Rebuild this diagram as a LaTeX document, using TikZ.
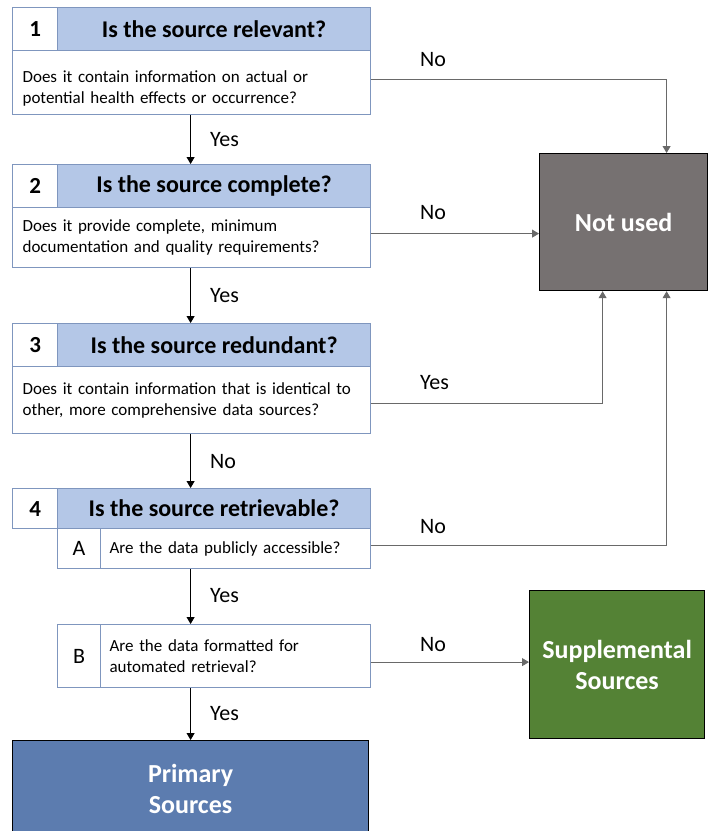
\documentclass[tikz,border=0pt]{standalone}
\usepackage{fontspec}
\setmainfont{Carlito}
\usetikzlibrary{arrows.meta}

\definecolor{boxline}{RGB}{127,150,190}
\definecolor{headblue}{RGB}{180,199,231}
\definecolor{notgray}{RGB}{118,113,113}
\definecolor{suppgreen}{RGB}{84,130,53}
\definecolor{primblue}{RGB}{92,124,175}
\definecolor{linegray}{RGB}{105,105,105}

\tikzset{
	cell/.style={draw=boxline, line width=1.2pt, anchor=north west, inner sep=0pt},
	numcell/.style={cell, fill=white, minimum width=45pt, font=\fontsize{23}{26}\selectfont\bfseries},
	headcell/.style={cell, fill=headblue, minimum width=313pt, font=\fontsize{24}{28}\selectfont\bfseries},
	bodycell/.style={cell, fill=white, inner xsep=10pt, text width=338pt, align=left, font=\fontsize{17}{21}\selectfont},
	letcell/.style={cell, fill=white, minimum width=43pt, font=\fontsize{22}{26}\selectfont},
	subcell/.style={cell, fill=white, inner xsep=9pt, text width=252pt, align=left, font=\fontsize{17}{21}\selectfont},
	endbox/.style={draw=black, line width=1.2pt, anchor=north west, text=white, align=center, font=\fontsize{26}{31}\selectfont\bfseries},
	lbl/.style={anchor=west, inner sep=0pt, font=\fontsize{22}{26}\selectfont},
	arr/.style={line width=0.9pt, -{Triangle[length=7pt,width=8pt]}},
	side/.style={arr, draw=linegray}
}

\begin{document}
\begin{tikzpicture}[x=1pt,y=-1pt]
	\useasboundingbox (0,0) rectangle (708,831);

	% question 1
	\node[numcell, minimum height=43pt] (n1) at (12,7) {1};
	\node[headcell, minimum height=43pt] (h1) at (57,7) {Is the source relevant?};
	\node[bodycell, minimum height=64pt] (b1) at (12,50) {\rule{0pt}{24pt}Does it contain information on actual or\\potential health effects or occurrence?};

	% question 2
	\node[numcell, minimum height=43pt] (n2) at (12,164) {2};
	\node[headcell, minimum height=43pt] (h2) at (57,164) {Is the source complete?};
	\node[bodycell, minimum height=60pt] (b2) at (12,207) {Does it provide complete, minimum\\documentation and quality requirements?};

	% question 3
	\node[numcell, minimum height=43pt] (n3) at (12,323) {3};
	\node[headcell, minimum height=43pt] (h3) at (57,323) {Is the source redundant?};
	\node[bodycell, minimum height=67pt] (b3) at (12,366) {Does it contain information that is identical to\\other, more comprehensive data sources?};

	% question 4
	\node[numcell, minimum height=40pt] (n4) at (12,488) {4};
	\node[headcell, minimum height=40pt] (h4) at (57,488) {Is the source retrievable?};
	\node[letcell, minimum height=40pt] (la) at (57,528) {A};
	\node[subcell, minimum height=40pt] (ra) at (100,528) {Are the data publicly accessible?};
	\node[letcell, minimum height=63pt] (lb) at (57,624) {B};
	\node[subcell, minimum height=63pt] (rb) at (100,624) {Are the data formatted for\\automated retrieval?};

	% outcomes
	\node[endbox, fill=notgray, minimum width=168pt, minimum height=137pt] (nu) at (539,153) {Not used};
	\node[endbox, fill=suppgreen, minimum width=175pt, minimum height=148pt] (supp) at (529,590) {Supplemental\\Sources};
	\node[endbox, fill=primblue, minimum width=356pt, minimum height=96pt] (prim) at (12,740) {Primary\\Sources};

	% main line
	\draw[arr] (prim.north |- b1.south) -- (prim.north |- h2.north);
	\draw[arr] (prim.north |- b2.south) -- (prim.north |- h3.north);
	\draw[arr] (prim.north |- b3.south) -- (prim.north |- h4.north);
	\draw[arr] (prim.north |- ra.south) -- (prim.north |- rb.north);
	\draw[arr] (prim.north |- rb.south) -- (prim.north);

	\node[lbl] (y1) at (210,140) {Yes};
	\node[lbl] (y2) at (210,296) {Yes};
	\node[lbl] (y3) at (210,462) {No};
	\node[lbl] (y4) at (210,596) {Yes};
	\node[lbl] (y5) at (210,714) {Yes};

	% side exits
	\draw[side] ([yshift=3pt]b1.east) -| ([xshift=43pt]nu.north);
	\draw[side] ([yshift=4pt]b2.east) -- ([yshift=4pt]b2.east -| nu.west);
	\draw[side] ([yshift=-3pt]b3.east) -| ([xshift=-21pt]nu.south);
	\draw[side] ([yshift=3pt]ra.east) -| ([xshift=43pt]nu.south);
	\draw[side] ([yshift=-6pt]rb.east) -- ([yshift=-6pt]rb.east -| supp.west);

	\node[lbl] (s1) at (420,60) {No};
	\node[lbl] (s2) at (420,213) {No};
	\node[lbl] (s3) at (420,383) {Yes};
	\node[lbl] (s4) at (420,527) {No};
	\node[lbl] (s5) at (420,645) {No};
\end{tikzpicture}
\end{document}
